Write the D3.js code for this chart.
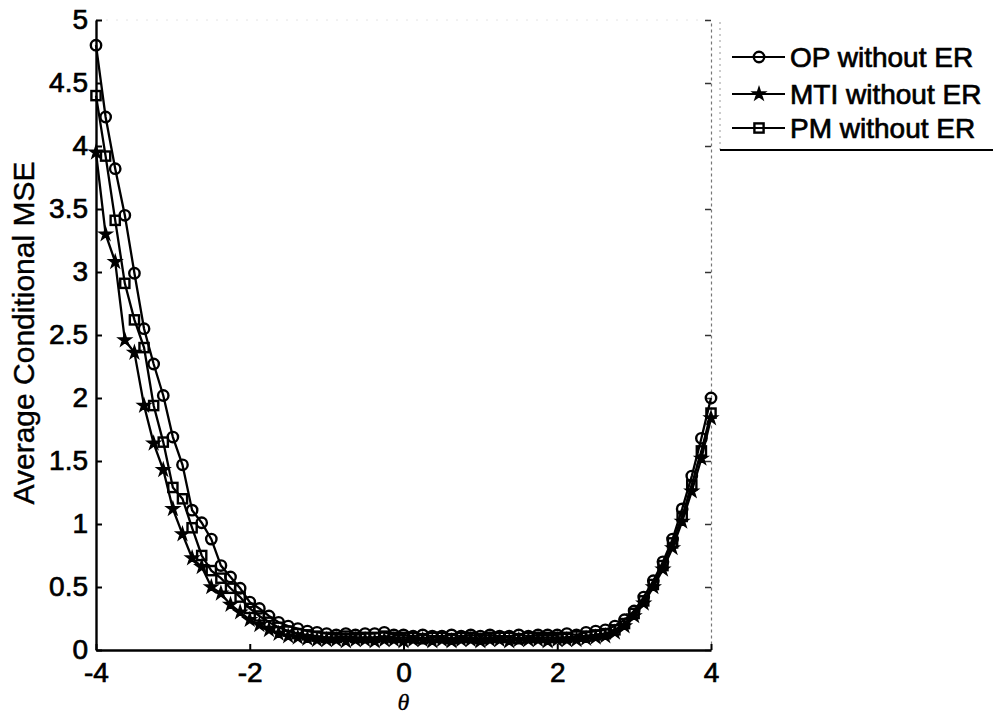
<!DOCTYPE html>
<html>
<head>
<meta charset="utf-8">
<script src="https://cdn.jsdelivr.net/npm/d3@7/dist/d3.min.js"></script>
<style>
  body { margin: 0; background: #fff; }
  text { font-family: "Liberation Sans", Arial, sans-serif; fill: #000; stroke: #000; stroke-width: 0.7px; }
</style>
</head>
<body>
<script>

    // theta grid: -4 .. 4, step 0.125 (65 points)
    const theta = d3.range(65).map(k => -4 + k * 0.125);

    const opMSE = [4.80, 4.23, 3.82, 3.45, 2.99, 2.55, 2.27, 2.02, 1.69, 1.47,
                   1.11, 1.01, 0.88, 0.67, 0.58, 0.49, 0.38, 0.33, 0.27, 0.22,
                   0.19, 0.17, 0.15, 0.14, 0.13, 0.12, 0.13, 0.12, 0.13, 0.13,
                   0.14, 0.12, 0.12, 0.11, 0.12, 0.11, 0.11, 0.12, 0.11, 0.12,
                   0.11, 0.12, 0.11, 0.11, 0.12, 0.11, 0.12, 0.12, 0.12, 0.13,
                   0.12, 0.14, 0.15, 0.16, 0.19, 0.24, 0.31, 0.42, 0.55, 0.70,
                   0.88, 1.12, 1.38, 1.68, 2.00];

    const mtiMSE = [3.95, 3.30, 3.08, 2.46, 2.36, 1.94, 1.64, 1.43, 1.12, 0.92,
                    0.73, 0.66, 0.50, 0.45, 0.36, 0.30, 0.24, 0.20, 0.16, 0.13,
                    0.11, 0.10, 0.09, 0.08, 0.08, 0.08, 0.07, 0.08, 0.08, 0.07,
                    0.08, 0.08, 0.07, 0.08, 0.08, 0.07, 0.08, 0.07, 0.08, 0.08,
                    0.07, 0.08, 0.08, 0.07, 0.08, 0.08, 0.08, 0.07, 0.08, 0.08,
                    0.08, 0.09, 0.10, 0.11, 0.14, 0.19, 0.27, 0.37, 0.50, 0.64,
                    0.81, 1.02, 1.26, 1.52, 1.84];

    const pmMSE = [4.40, 3.92, 3.41, 2.91, 2.62, 2.40, 1.94, 1.65, 1.29, 1.20,
                   0.97, 0.75, 0.63, 0.57, 0.49, 0.42, 0.33, 0.27, 0.22, 0.18,
                   0.15, 0.13, 0.12, 0.11, 0.10, 0.10, 0.11, 0.10, 0.10, 0.10,
                   0.11, 0.10, 0.10, 0.10, 0.09, 0.10, 0.10, 0.09, 0.10, 0.10,
                   0.09, 0.10, 0.10, 0.10, 0.09, 0.10, 0.10, 0.10, 0.10, 0.10,
                   0.11, 0.11, 0.12, 0.13, 0.16, 0.21, 0.29, 0.39, 0.52, 0.67,
                   0.85, 1.06, 1.31, 1.58, 1.88];

    const seriesNames = ["OP without ER", "MTI without ER", "PM without ER"];
    const xTicks = [-4, -2, 0, 2, 4];
    const yTicks = [0, 0.5, 1, 1.5, 2, 2.5, 3, 3.5, 4, 4.5, 5];

    const W = 993, H = 716;
    const plotL = 96, plotR = 711, plotT = 20, plotB = 650;

    const svg = d3.select("body").append("svg")
        .attr("width", W)
        .attr("height", H);

    const x = d3.scaleLinear().domain([-4, 4]).range([plotL, plotR]);
    const y = d3.scaleLinear().domain([0, 5]).range([plotB, plotT]);

    // faint top / right frame, like the scanned original
    svg.append("line")
        .attr("x1", plotL).attr("x2", plotR).attr("y1", plotT).attr("y2", plotT)
        .attr("stroke", "#e4e4e4").attr("stroke-width", 1).attr("stroke-dasharray", "2,8");
    const rightAxis = svg.append("g")
        .attr("transform", `translate(${plotR},0)`)
        .call(d3.axisRight(y).tickValues(yTicks).tickSizeInner(-6).tickSizeOuter(0).tickFormat(""));
    rightAxis.select(".domain").attr("stroke", "#777").attr("stroke-width", 1.2).attr("stroke-dasharray", "3,3");
    rightAxis.selectAll(".tick line").attr("stroke", "#333").attr("stroke-width", 1.5);

    const xAxis = svg.append("g")
        .attr("transform", `translate(0,${plotB})`)
        .call(d3.axisBottom(x).tickValues(xTicks).tickSizeInner(-6).tickSizeOuter(0).tickPadding(11)
            .tickFormat(d => String(d)));
    const yAxis = svg.append("g")
        .attr("transform", `translate(${plotL},0)`)
        .call(d3.axisLeft(y).tickValues(yTicks).tickSizeInner(-6).tickSizeOuter(0).tickPadding(8)
            .tickFormat(d => String(d)));

    [xAxis, yAxis].forEach(g => {
        g.select(".domain").attr("stroke", "#000").attr("stroke-width", 2.4);
        g.selectAll(".tick line").attr("stroke", "#000").attr("stroke-width", 2);
        g.selectAll(".tick text")
            .style("font-family", '"Liberation Sans", Arial, sans-serif')
            .style("font-size", "28px")
            .attr("fill", "#000");
    });
    xAxis.selectAll(".tick text").attr("dy", "0.76em");

    // axis titles
    svg.append("text")
        .attr("transform", "translate(34,333) rotate(-90)")
        .attr("text-anchor", "middle")
        .style("font-size", "30px")
        .style("stroke-width", "0.4px")
        .text("Average Conditional MSE");

    svg.append("text")
        .attr("x", x(0))
        .attr("y", 710)
        .attr("text-anchor", "middle")
        .style("font-family", '"Liberation Serif", "DejaVu Serif", serif')
        .style("font-style", "italic")
        .style("font-size", "24px")
        .style("stroke-width", "0.3px")
        .text("θ");

    // series
    const series = [
        { name: seriesNames[0], values: opMSE, marker: "circle" },
        { name: seriesNames[1], values: mtiMSE, marker: "star" },
        { name: seriesNames[2], values: pmMSE, marker: "square" }
    ];

    const line = d3.line().x(d => x(d[0])).y(d => y(d[1]));

    function drawMarker(g, kind) {
        if (kind === "circle") {
            g.append("circle").attr("r", 5.2)
                .attr("fill", "none").attr("stroke", "#000").attr("stroke-width", 2.4);
        } else if (kind === "square") {
            g.append("rect").attr("x", -4.6).attr("y", -4.6).attr("width", 9.2).attr("height", 9.2)
                .attr("fill", "none").attr("stroke", "#000").attr("stroke-width", 2.4);
        } else {
            g.append("path").attr("d", d3.symbol(d3.symbolStar, 50)())
                .attr("fill", "#000").attr("stroke", "#000").attr("stroke-width", 1.5);
        }
    }

    series.forEach(s => {
        const pts = theta.map((t, i) => [t, s.values[i]]);
        svg.append("path")
            .datum(pts)
            .attr("fill", "none")
            .attr("stroke", "#000")
            .attr("stroke-width", 2.3)
            .attr("d", line);
        svg.append("g").selectAll("g")
            .data(pts)
            .join("g")
            .attr("transform", d => `translate(${x(d[0])},${y(d[1])})`)
            .each(function () { drawMarker(d3.select(this), s.marker); });
    });

    // legend
    const legend = svg.append("g");
    legend.append("line")
        .attr("x1", 720).attr("x2", 720).attr("y1", 22).attr("y2", 150)
        .attr("stroke", "#999").attr("stroke-width", 1).attr("stroke-dasharray", "2,4");
    legend.append("line")
        .attr("x1", 720).attr("x2", W).attr("y1", 150).attr("y2", 150)
        .attr("stroke", "#000").attr("stroke-width", 2.2);

    const rowY = [57, 94, 128];
    series.forEach((s, i) => {
        const row = legend.append("g").attr("transform", `translate(0,${rowY[i]})`);
        row.append("line").attr("x1", 732).attr("x2", 785).attr("y1", 0).attr("y2", 0)
            .attr("stroke", "#000").attr("stroke-width", 2.2);
        drawMarker(row.append("g").attr("transform", "translate(759,0)"), s.marker);
        row.append("text")
            .attr("x", 790)
            .attr("dy", "0.36em")
            .style("font-size", "28px")
            .text(s.name);
    });
</script>
</body>
</html>
